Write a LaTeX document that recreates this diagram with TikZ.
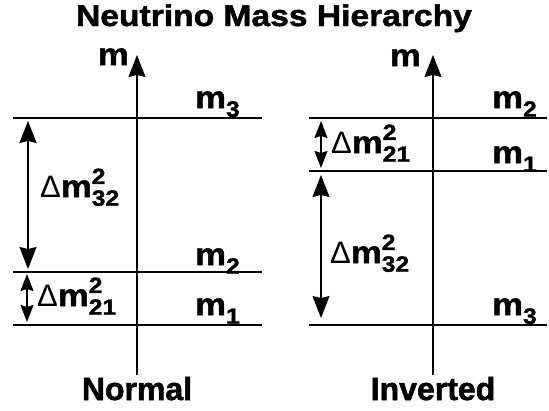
\documentclass[tikz,border=0pt]{standalone}
\usepackage{fontspec}
\setmainfont{Liberation Sans}
\newfontfamily\widefont{Liberation Sans}[BoldFeatures={FakeBold=1.6, FakeStretch=1.12}]
\newfontfamily\heavyfont{Liberation Sans}[BoldFeatures={FakeBold=1.6}]
\usetikzlibrary{arrows.meta,positioning}

\newcommand{\subsz}{\fontsize{22}{22}\selectfont}
\newcommand{\mlev}[1]{m\raisebox{-0.28em}{\subsz #1}}
\newcommand{\dmsq}[1]{{\mdseries Δ}m\rlap{\raisebox{0.42em}{\subsz 2}}\raisebox{-0.28em}{\subsz #1}}

\begin{document}
\begin{tikzpicture}[
    x=1pt, y=-1pt,
    title/.style={font=\widefont\bfseries\fontsize{30}{31}\selectfont, inner sep=0pt},
    lbl/.style={font=\widefont\bfseries\fontsize{31}{32}\selectfont, inner sep=0pt},
    kind/.style={font=\heavyfont\bfseries\fontsize{32}{33}\selectfont, inner sep=0pt},
    level/.style={line width=1.8pt},
    axis/.style={line width=1.4pt, -{Stealth[length=22pt, width=17pt, inset=2pt]}},
    gap/.style={line width=1.4pt, {Stealth[length=22pt, width=17pt, inset=2pt]}-{Stealth[length=22pt, width=17pt, inset=2pt]}},
    smallgap/.style={line width=1.4pt, {Stealth[length=17pt, width=13pt, inset=2pt]}-{Stealth[length=17pt, width=13pt, inset=2pt]}}
]
\useasboundingbox (0,0) rectangle (549,410);

\node[title, anchor=base] (head) at (274,26) {Neutrino Mass Hierarchy};

% normal ordering
\coordinate (nbot) at (137,375);
\coordinate (ntop) at (137,55);
\draw[axis] (nbot) -- (ntop);
\node[lbl, anchor=base east] (nm) at (129,65) {m};
\coordinate (n3l) at (13,118);  \coordinate (n3r) at (262,118);
\coordinate (n2l) at (13,272);  \coordinate (n2r) at (262,272);
\coordinate (n1l) at (13,325);  \coordinate (n1r) at (262,325);
\draw[level] (n3l) -- (n3r);
\draw[level] (n2l) -- (n2r);
\draw[level] (n1l) -- (n1r);
\node[lbl, anchor=base west] (nm3) at (195,108) {\mlev{3}};
\node[lbl, anchor=base west] (nm2) at (195,265) {\mlev{2}};
\node[lbl, anchor=base west] (nm1) at (195,315) {\mlev{1}};
\coordinate (na) at (28,121);  \coordinate (nb) at (28,269);
\coordinate (nc) at (27,274);  \coordinate (nd) at (27,322);
\draw[gap] (na) -- (nb);
\draw[smallgap] (nc) -- (nd);
\node[lbl, anchor=base west] (nd32) at (40,197) {\dmsq{32}};
\node[lbl, anchor=base west] (nd21) at (37,306) {\dmsq{21}};
\node[kind, anchor=base] (normal) at (137,400) {Normal};

% inverted ordering
\coordinate (ibot) at (433,375);
\coordinate (itop) at (433,55);
\draw[axis] (ibot) -- (itop);
\node[lbl, anchor=base east] (im) at (421,66) {m};
\coordinate (i2l) at (309,118);  \coordinate (i2r) at (547,118);
\coordinate (i1l) at (309,171);  \coordinate (i1r) at (547,171);
\coordinate (i3l) at (309,325);  \coordinate (i3r) at (547,325);
\draw[level] (i2l) -- (i2r);
\draw[level] (i1l) -- (i1r);
\draw[level] (i3l) -- (i3r);
\node[lbl, anchor=base west] (im2) at (492,108) {\mlev{2}};
\node[lbl, anchor=base west] (im1) at (492,163) {\mlev{1}};
\node[lbl, anchor=base west] (im3) at (492,315) {\mlev{3}};
\coordinate (ia) at (321,121);  \coordinate (ib) at (321,168);
\coordinate (ic) at (321,175);  \coordinate (id) at (321,318);
\draw[smallgap] (ia) -- (ib);
\draw[gap] (ic) -- (id);
\node[lbl, anchor=base west] (id21) at (331,153) {\dmsq{21}};
\node[lbl, anchor=base west] (id32) at (330,263) {\dmsq{32}};
\node[kind, anchor=base] (inverted) at (433,400) {Inverted};
\end{tikzpicture}
\end{document}
